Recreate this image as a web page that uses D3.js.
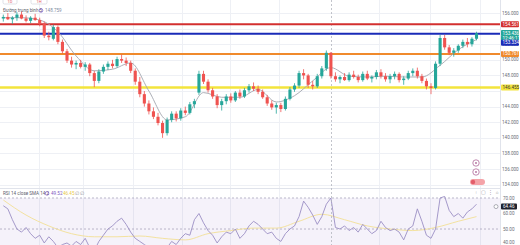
<!DOCTYPE html>
<html>
<head>
<meta charset="utf-8">
<script src="https://cdn.jsdelivr.net/npm/d3@7"></script>
<style>
  html, body { margin: 0; padding: 0; background: #fff; overflow: hidden; }
  svg { display: block; font-family: Roboto, "Liberation Sans", sans-serif; }
</style>
</head>
<body>
<svg id="chart" width="520" height="245"></svg>
<script>
// candles: [open, high, low, close]
const ohlc = [
  [155.3,155.8,154.9,155.5],[155.5,156.0,155.1,155.2],[155.2,155.6,154.6,155.4],[155.4,156.1,155.0,155.8],
  [155.8,156.2,155.2,155.3],[155.3,155.7,154.8,155.0],[155.0,155.6,154.7,155.4],[155.4,155.9,155.0,155.1],
  [155.1,155.4,154.3,154.6],[154.6,154.9,152.8,153.1],[153.1,153.6,152.5,152.9],[152.7,154.5,152.5,154.2],
  [154.2,154.4,152.0,152.3],[152.3,152.6,150.8,151.1],[151.1,151.4,149.6,149.9],[149.9,150.4,149.0,149.4],
  [149.4,149.9,148.8,149.6],[149.6,150.0,148.9,149.1],[149.1,149.7,148.6,149.4],[149.4,149.6,147.9,148.3],
  [148.3,148.6,146.5,147.3],[147.3,148.8,147.0,148.5],[148.5,149.4,148.2,149.1],[149.1,149.8,148.7,149.5],
  [149.5,150.0,148.9,149.2],[149.2,150.4,149.0,150.1],[150.1,150.7,149.6,149.9],[149.9,150.3,149.2,149.6],
  [149.6,149.9,148.3,148.6],[148.6,148.9,146.8,147.2],[147.2,147.8,145.2,145.6],[145.6,146.0,144.0,144.4],
  [144.4,144.8,143.0,143.4],[143.4,143.9,142.4,142.7],[142.7,143.2,141.6,141.9],[141.9,142.2,140.0,140.6],
  [140.6,142.6,140.3,142.3],[142.3,143.4,142.0,143.1],[143.1,143.4,142.1,142.5],[142.5,143.8,142.2,143.5],
  [143.5,144.0,142.9,143.2],[143.2,144.6,143.0,144.3],[144.3,145.0,143.8,144.7],[145.8,148.6,145.5,148.2],
  [148.2,148.6,146.9,147.2],[147.2,147.5,145.8,146.1],[146.1,146.4,145.0,145.3],[145.3,145.6,143.8,144.2],
  [144.2,145.0,143.5,144.7],[144.7,145.6,144.3,145.3],[145.3,145.7,144.5,144.8],[144.8,146.0,144.6,145.8],
  [145.8,146.2,145.0,145.3],[145.3,146.4,145.1,146.1],[146.1,146.9,145.8,146.6],[146.6,147.1,146.0,146.3],
  [146.3,146.7,145.6,145.9],[145.9,146.2,145.0,145.2],[145.2,145.5,144.1,144.4],[144.4,144.8,143.6,143.9],
  [143.9,144.5,143.1,144.2],[144.2,144.5,143.3,143.7],[143.7,145.3,143.5,145.0],[145.0,146.5,144.8,146.2],
  [146.2,147.0,145.9,146.7],[146.7,148.6,146.4,148.3],[148.3,148.8,147.5,148.0],[148.0,148.2,146.4,146.8],
  [146.8,147.3,146.2,146.6],[146.6,148.2,146.4,147.9],[147.9,149.2,147.6,148.9],[148.9,151.2,148.6,150.9],
  [150.9,151.0,147.6,147.9],[147.9,148.4,147.2,147.5],[147.5,148.0,147.0,147.8],[147.8,148.3,147.3,147.4],
  [147.4,148.4,147.2,148.1],[148.1,148.6,147.6,147.8],[147.8,148.1,147.1,147.4],[147.4,148.5,147.2,148.2],
  [148.2,148.6,147.4,147.6],[147.6,148.0,147.1,147.8],[147.8,148.7,147.5,148.4],[148.4,148.8,147.6,147.9],
  [147.9,148.3,147.2,147.5],[147.5,148.2,147.0,147.9],[147.9,148.5,147.5,148.2],[148.2,148.4,147.1,147.4],
  [147.4,147.9,146.8,147.6],[147.6,148.6,147.4,148.3],[148.3,148.9,147.9,148.6],[148.6,149.0,147.6,147.9],
  [147.9,148.2,147.0,147.3],[147.3,147.6,146.2,146.6],[146.6,147.0,145.6,146.4],[146.4,149.8,146.2,149.5],
  [149.5,153.2,149.2,152.8],[152.8,153.2,151.3,151.6],[151.6,151.9,150.6,150.9],[150.9,151.5,150.4,151.2],
  [151.2,152.0,150.9,151.8],[151.8,152.6,151.5,152.3],[152.3,152.8,151.6,152.0],[152.0,152.9,151.7,152.7],
  [152.7,153.6,152.5,153.4]
];

// moving average (5), read every 4th candle: [index, value]
const maPoints = [
  [0,155.4],[4,155.4],[8,155.1],[12,153.6],[16,150.5],[20,148.6],[24,148.8],[28,149.6],[32,146.0],
  [36,142.3],[40,142.7],[44,145.8],[48,145.2],[52,145.2],[56,146.2],[60,144.6],[64,145.4],[68,147.3],
  [72,149.0],[76,147.9],[80,147.8],[84,147.9],[88,147.8],[92,147.8],[96,149.3],[100,151.3],[104,152.6]
];

// horizontal levels
const levelPrices = [154.561, 153.334, 150.761, 146.455];
const levelColors = ['#d32f2f', '#1a2bb8', '#f08a2c', '#f3e43c'];
const levelWidths = [2, 2, 2, 2.5];

const priceTicks = [156, 154, 152, 150, 148, 146, 144, 142, 140, 138, 136, 134];

// RSI 14 and its SMA 14
const rsi = [
  65,63,56,50,48,51,47,44,46,41,45,42,38,40,41,39,42,40,44,38,
  36,42,46,50,52,55,57,53,48,44,42,40,38,36,37,34,38,42,40,44,
  47,46,56,60,54,49,46,41,45,48,47,50,44,47,52,55,53,50,47,48,
  44,42,47,50,52,58,68,64,59,53,58,66,70,51,50,52,49,51,48,53,
  50,47,49,55,51,49,50,48,43,50,52,63,55,46,44,50,70,71,62,58,
  60,57,61,63,66
];
const rsiMaPoints = [
  [0,68.7],[5,59],[10,52],[15,47],[20,45],[25,45],[30,45.5],[35,44],[40,43],[45,47],
  [50,49],[55,50.6],[60,50.6],[65,55],[70,59.5],[75,56],[80,52],[85,50],[90,49],[95,51],
  [100,55],[104,58]
];
const rsiTicks = [70, 60, 50, 40];

const lastPrice = 153.436;
const lastRsi = 64.46;
const maLegendValue = '148.759';

const W = 520, H = 245;
const plotRight = 500;
const N = ohlc.length;

const svg = d3.select('#chart');

const x = d3.scaleLinear().domain([0, N - 1]).range([3.3, 476.5]);
const bw = 3.1;
const y = d3.scaleLinear().domain([133.57, 157.67]).range([188, 0]);
const yr = d3.scaleLinear().domain([39.7, 75.8]).range([245, 189]);

// grid
const gridIdx = [7.8, 17.5, 28.5, 39.3, 49.8, 60.6, 82.6, 93.8, 104.8];
svg.append('g').attr('stroke', '#eef0f5').attr('stroke-width', 1)
  .selectAll('line').data(gridIdx).join('line')
  .attr('x1', d => Math.round(x(d)) + 0.5).attr('x2', d => Math.round(x(d)) + 0.5)
  .attr('y1', 0).attr('y2', H);
svg.append('g').attr('stroke', '#eef0f5').attr('stroke-width', 1)
  .selectAll('line').data(priceTicks).join('line')
  .attr('x1', 0).attr('x2', plotRight)
  .attr('y1', d => Math.round(y(d)) + 0.5).attr('y2', d => Math.round(y(d)) + 0.5);

// RSI pane
svg.append('rect').attr('x', 0).attr('width', plotRight)
  .attr('y', yr(70)).attr('height', H - yr(70)).attr('fill', 'rgba(126,87,194,0.08)');
svg.append('g').attr('stroke', '#a9a6bd').attr('stroke-dasharray', '2,2').attr('stroke-width', 0.8)
  .selectAll('line').data([70, 50]).join('line')
  .attr('x1', 0).attr('x2', plotRight)
  .attr('y1', d => yr(d)).attr('y2', d => yr(d));
svg.append('line').attr('x1', 0).attr('x2', plotRight).attr('y1', 188.5).attr('y2', 188.5)
  .attr('stroke', '#e0e3eb');

svg.append('path').datum(rsiMaPoints)
  .attr('fill', 'none').attr('stroke', '#f3e2a0').attr('stroke-width', 1)
  .attr('d', d3.line().x(d => x(d[0])).y(d => yr(d[1])).curve(d3.curveMonotoneX));
svg.append('path').datum(rsi)
  .attr('fill', 'none').attr('stroke', '#9b8fc4').attr('stroke-width', 0.9)
  .attr('d', d3.line().x((d, i) => x(i)).y(d => yr(d)));

// crosshair
svg.append('line').attr('x1', Math.round(x(72)) + 0.5).attr('x2', Math.round(x(72)) + 0.5)
  .attr('y1', 0).attr('y2', H).attr('stroke', '#b2b5be').attr('stroke-dasharray', '2,2')
  .attr('stroke-width', 0.8);

// levels
svg.append('g').selectAll('line').data(levelPrices).join('line')
  .attr('x1', 0).attr('x2', plotRight)
  .attr('y1', d => y(d)).attr('y2', d => y(d))
  .attr('stroke', (d, i) => levelColors[i]).attr('stroke-width', (d, i) => levelWidths[i]);

// MA line
svg.append('path').datum(maPoints)
  .attr('fill', 'none').attr('stroke', '#a3a6af').attr('stroke-width', 0.9)
  .attr('d', d3.line().x(d => x(d[0])).y(d => y(d[1])).curve(d3.curveMonotoneX));

// candles
const up = '#26a69a', down = '#ef5350';
const candle = svg.append('g').selectAll('g').data(ohlc).join('g');
candle.append('line')
  .attr('x1', (d, i) => x(i)).attr('x2', (d, i) => x(i))
  .attr('y1', d => y(d[1])).attr('y2', d => y(d[2]))
  .attr('stroke', d => d[3] >= d[0] ? up : down).attr('stroke-width', 0.8);
candle.append('rect')
  .attr('x', (d, i) => x(i) - bw / 2).attr('width', bw)
  .attr('y', d => y(Math.max(d[0], d[3])))
  .attr('height', d => Math.max(0.8, Math.abs(y(d[0]) - y(d[3]))))
  .attr('fill', d => d[3] >= d[0] ? up : down);

// event markers
const ev = svg.append('g');
[163, 172].forEach(cy => {
  ev.append('circle').attr('cx', 476).attr('cy', cy).attr('r', 3.2)
    .attr('fill', '#fff').attr('stroke', '#b06a9a').attr('stroke-width', 0.8);
  ev.append('circle').attr('cx', 476).attr('cy', cy).attr('r', 0.9).attr('fill', '#b06a9a');
});
ev.append('rect').attr('x', 470).attr('y', 179).attr('width', 15).attr('height', 6).attr('rx', 3)
  .attr('fill', '#f4a3a8');
ev.append('circle').attr('cx', 473).attr('cy', 182).attr('r', 2.2).attr('fill', '#e35d6a');

// pane controls
svg.append('g').attr('fill', '#9598a1').attr('font-size', 4.5)
  .selectAll('text').data(['↑', '▢', '⋮', '⌂']).join('text')
  .attr('x', (d, i) => 476 + i * 7).attr('y', 194).attr('text-anchor', 'middle').text(d => d);

// legends
svg.append('text').attr('x', 3).attr('y', 12).attr('font-size', 4.6).attr('fill', '#5d606b')
  .text('Đường trung bình 5');
svg.append('circle').attr('cx', 41).attr('cy', 10.5).attr('r', 1.8)
  .attr('fill', 'none').attr('stroke', '#7e57c2').attr('stroke-width', 0.7);
svg.append('text').attr('x', 45).attr('y', 12).attr('font-size', 4.6).attr('fill', '#7e8aa0')
  .text(maLegendValue);

const rl = svg.append('g').attr('font-size', 4.6);
rl.append('text').attr('x', 3).attr('y', 195).attr('fill', '#5d606b').text('RSI 14 close SMA 14 2');
rl.append('circle').attr('cx', 47).attr('cy', 193.4).attr('r', 1.8)
  .attr('fill', 'none').attr('stroke', '#7e57c2').attr('stroke-width', 0.7);
rl.append('text').attr('x', 51).attr('y', 195).attr('fill', '#7e57c2').text('49.52');
rl.append('text').attr('x', 63).attr('y', 195).attr('fill', '#e7c94a').text('46.45');
rl.append('text').attr('x', 75).attr('y', 195).attr('fill', '#9598a1').text('∅ ∅');

// top buttons
svg.append('g').selectAll('rect').data([[3, 14], [31, 16]]).join('rect')
  .attr('x', d => d[0]).attr('y', -4).attr('width', d => d[1]).attr('height', 8).attr('rx', 1.5)
  .attr('fill', '#fff').attr('stroke', '#d1d4dc').attr('stroke-width', 0.7);
svg.append('g').attr('font-size', 4).attr('fill', '#e35d6a')
  .selectAll('text').data([[10, '1D'], [39, '1H']]).join('text')
  .attr('x', d => d[0]).attr('y', 2.5).attr('text-anchor', 'middle').text(d => d[1]);

// price scale
svg.append('rect').attr('x', plotRight).attr('y', 0).attr('width', W - plotRight).attr('height', H)
  .attr('fill', '#fff');
svg.append('line').attr('x1', plotRight + 0.5).attr('x2', plotRight + 0.5).attr('y1', 0).attr('y2', H)
  .attr('stroke', '#e0e3eb');

const fmt = d3.format('.3f');
const tagYs = levelPrices.map(p => y(p)).concat([y(lastPrice), y(lastPrice) + 5.5]);
svg.append('g').attr('font-size', 4.6).attr('fill', '#6a6d78')
  .selectAll('text').data(priceTicks.filter(p => tagYs.every(t => Math.abs(y(p) - t) > 5)))
  .join('text').attr('x', 502).attr('y', d => y(d) + 1.6).text(d => fmt(d));

const tags = [
  { y: y(154.561), bg: '#d32f2f', fg: '#fff', t: fmt(levelPrices[0]) },
  { y: y(lastPrice), bg: '#26a69a', fg: '#fff', t: fmt(lastPrice) },
  { y: y(lastPrice) + 5.2, bg: '#26a69a', fg: '#fff', t: '12:46:11' },
  { y: y(levelPrices[1]) + 9, bg: '#1a2bb8', fg: '#fff', t: fmt(levelPrices[1]) },
  { y: y(levelPrices[2]), bg: '#f08a2c', fg: '#fff', t: fmt(levelPrices[2]) },
  { y: y(levelPrices[3]), bg: '#f3e43c', fg: '#333', t: fmt(levelPrices[3]) }
];
const tg = svg.append('g').selectAll('g').data(tags).join('g');
tg.append('rect').attr('x', 501).attr('y', d => d.y - 3).attr('width', 18).attr('height', 6)
  .attr('rx', 1).attr('fill', d => d.bg);
tg.append('text').attr('x', 502.5).attr('y', d => d.y + 1.6).attr('font-size', 4.6)
  .attr('fill', d => d.fg).text(d => d.t);

// RSI scale
svg.append('g').attr('font-size', 4.6).attr('fill', '#6a6d78')
  .selectAll('text').data(rsiTicks.filter(v => Math.abs(yr(v) - yr(lastRsi)) > 5)).join('text')
  .attr('x', 503).attr('y', d => Math.min(yr(d) + 1.6, 243.5)).text(d => d3.format('.2f')(d));
svg.append('rect').attr('x', 501).attr('y', yr(lastRsi) - 3).attr('width', 16).attr('height', 6)
  .attr('rx', 1).attr('fill', '#1e222d');
svg.append('text').attr('x', 503).attr('y', yr(lastRsi) + 1.6).attr('font-size', 4.6)
  .attr('fill', '#fff').text(d3.format('.2f')(lastRsi));
svg.append('circle').attr('cx', 496).attr('cy', yr(lastRsi)).attr('r', 2)
  .attr('fill', '#fff').attr('stroke', '#787b86').attr('stroke-width', 0.6);
</script>
</body>
</html>
